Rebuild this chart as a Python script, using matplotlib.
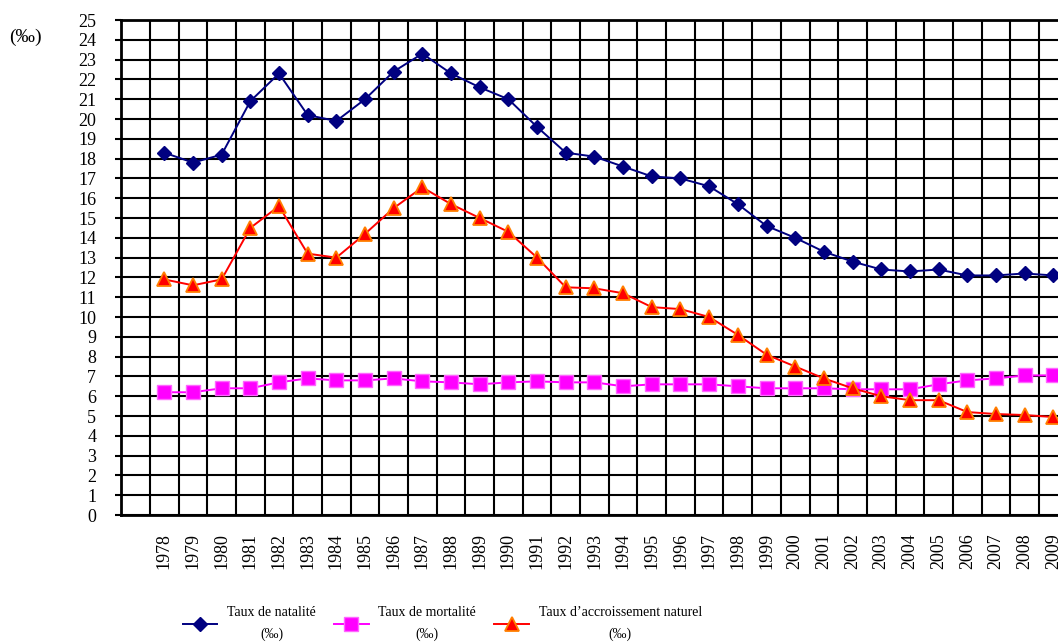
# Import matplotlib stuff
import matplotlib
matplotlib.use("Agg")
import matplotlib.pyplot as plt

# Data
years = [str(y) for y in range(1978, 2010)]

natalite = [18.3, 17.8, 18.2, 20.9, 22.3, 20.2, 19.9, 21.0, 22.4, 23.3,
            22.3, 21.6, 21.0, 19.6, 18.3, 18.1, 17.6, 17.1, 17.0, 16.6,
            15.7, 14.6, 14.0, 13.3, 12.8, 12.4, 12.3, 12.4, 12.1, 12.1,
            12.2, 12.1]

mortalite = [6.2, 6.2, 6.4, 6.4, 6.7, 6.9, 6.8, 6.8, 6.9, 6.75,
             6.7, 6.6, 6.7, 6.75, 6.7, 6.7, 6.5, 6.6, 6.6, 6.6,
             6.5, 6.4, 6.4, 6.4, 6.35, 6.35, 6.35, 6.6, 6.8, 6.9,
             7.05, 7.05]

accroissement = [11.9, 11.6, 11.9, 14.5, 15.6, 13.2, 13.0, 14.2, 15.5, 16.55,
                 15.7, 15.0, 14.3, 13.0, 11.5, 11.45, 11.2, 10.5, 10.4, 10.0,
                 9.1, 8.1, 7.5, 6.9, 6.4, 6.0, 5.8, 5.8, 5.2, 5.1,
                 5.05, 4.95]

y_ticks = list(range(0, 26))

labels = ["Taux de natalité\n(‰)", "Taux de mortalité\n(‰)", "Taux d\u2019accroissement naturel\n(‰)"]


def plot_rates(output: str) -> None:
    # Fonts
    plt.rcParams['font.family'] = ['Liberation Serif', 'DejaVu Serif']

    # Figure and its size
    fig = plt.figure(figsize=(10.58, 6.44), dpi=100)
    ax = fig.add_axes([0.1146, 0.2003, 0.8945, 0.7686])

    x = list(range(len(years)))

    # Lines
    ax.plot(x, natalite, color="#000080", lw=1.4, marker="D", ms=7.5,
            markerfacecolor="#000080", markeredgecolor="#000080", label=labels[0], zorder=5)
    ax.plot(x, mortalite, color="#FF00FF", lw=1.4, marker="s", ms=9.5,
            markerfacecolor="#FF00FF", markeredgecolor="#FF66FF", label=labels[1], zorder=5)
    ax.plot(x, accroissement, color="#FF0000", lw=1.4, marker="^", ms=9.5,
            markerfacecolor="#FF0000", markeredgecolor="#FF7F00", mew=1.3, label=labels[2], zorder=6)

    # Axes limits
    ax.set_xlim(-1.5, len(years) - 0.5)
    ax.set_ylim(0, 25)

    # Grid: horizontal at each unit, vertical between categories
    ax.set_yticks(y_ticks)
    ax.set_yticklabels([str(v) for v in y_ticks], fontsize=13)
    ax.set_xticks(x)
    ax.set_xticklabels(years, rotation=90, fontsize=13)
    ax.set_xticks([i - 0.5 for i in range(len(years) + 1)], minor=True)
    ax.grid(True, which="major", axis="y", color="black", lw=1.5)
    ax.grid(True, which="minor", axis="x", color="black", lw=1.5)
    ax.tick_params(axis="y", length=4, width=1.5, pad=14, direction="out")
    ax.tick_params(axis="x", which="both", length=0, pad=13)

    # Spines
    for side in ["left", "bottom", "top"]:
        ax.spines[side].set_color("black")
        ax.spines[side].set_linewidth(2)
    ax.spines["right"].set_visible(False)

    # Unit label
    fig.text(0.009, 0.935, "(‰)", fontsize=14)

    # Legend
    leg = fig.legend(loc="lower center", bbox_to_anchor=(0.418, -0.014), ncol=3, frameon=False,
                     fontsize=10, handlelength=2.5, handletextpad=0.7, columnspacing=1.3)
    for t in leg.get_texts():
        t.set_multialignment("center")
        t.set_linespacing(1.75)

    # Save fig
    fig.savefig(output, dpi=100)
    plt.close(fig)


if __name__ == '__main__':
    plot_rates("out.png")
